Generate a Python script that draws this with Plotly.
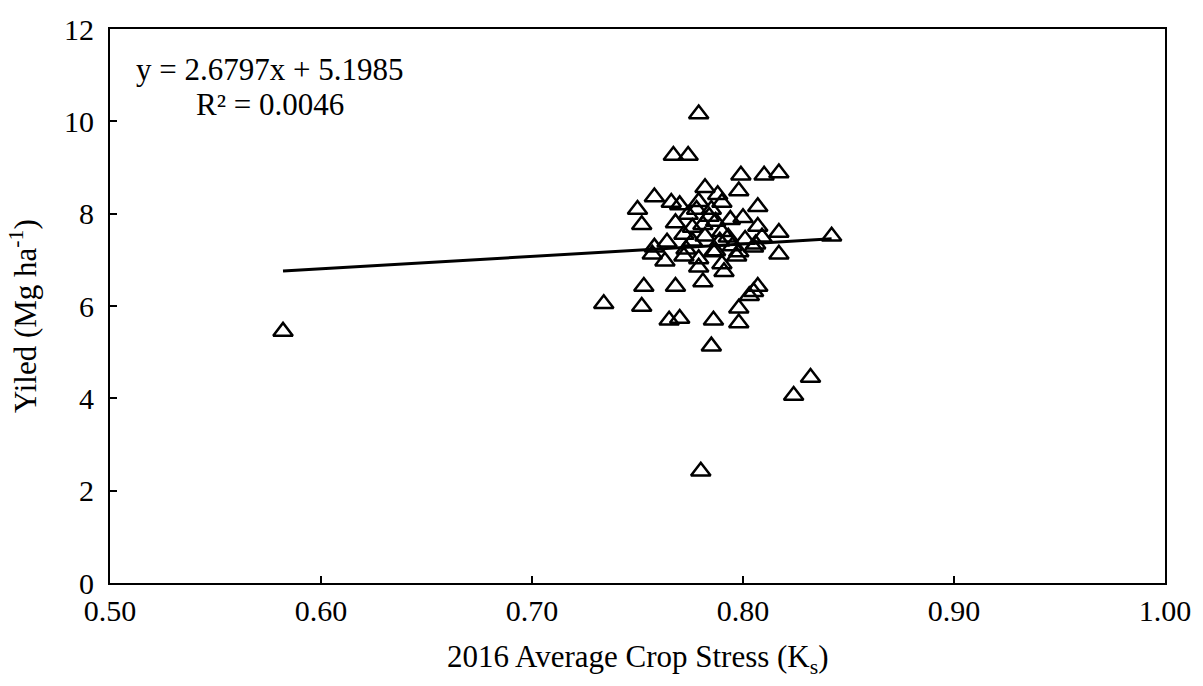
import plotly.graph_objects as go

# Average crop stress (Ks) and yield (Mg/ha)
ks = [0.582, 0.779, 0.767, 0.774, 0.799, 0.810, 0.817, 0.782, 0.798, 0.788,
      0.758, 0.766, 0.750, 0.752, 0.807, 0.800, 0.817, 0.842, 0.807, 0.734,
      0.752, 0.753, 0.768, 0.765, 0.770, 0.786, 0.798, 0.798, 0.785, 0.807,
      0.805, 0.803, 0.832, 0.824, 0.780, 0.758, 0.757, 0.764, 0.763, 0.772,
      0.779, 0.779, 0.781, 0.786, 0.790, 0.791, 0.798, 0.789, 0.793, 0.801,
      0.809, 0.817, 0.779, 0.790, 0.774, 0.784, 0.772, 0.776, 0.781, 0.787,
      0.790, 0.806, 0.773, 0.787, 0.797, 0.805, 0.778, 0.782, 0.785, 0.768,
      0.794, 0.770, 0.776, 0.795]
yld = [5.45, 10.16, 9.26, 9.26, 8.83, 8.83, 8.88, 8.56, 8.49, 8.41,
       8.36, 8.24, 8.09, 7.76, 8.15, 7.91, 7.59, 7.51, 7.72, 6.05,
       5.99, 6.42, 6.42, 5.69, 5.73, 5.69, 5.95, 5.63, 5.13, 6.42,
       6.31, 6.22, 4.45, 4.06, 2.42, 7.27, 7.12, 7.38, 6.97, 7.08,
       7.02, 6.84, 6.52, 7.17, 6.91, 6.74, 7.17, 7.40, 7.49, 7.44,
       7.49, 7.12, 8.26, 8.24, 7.98, 7.94, 7.55, 7.70, 7.76, 7.83,
       7.61, 7.34, 7.23, 7.19, 7.08, 7.27, 8.09, 7.51, 8.09, 7.80,
       7.87, 8.19, 7.40, 7.30]

slope = 2.6797
intercept = 5.1985
r2 = 0.0046

x_ticks = [0.5, 0.6, 0.7, 0.8, 0.9, 1.0]
y_ticks = [0, 2, 4, 6, 8, 10, 12]

FONT = "Liberation Serif, Times New Roman, serif"

fig = go.Figure()
fig.add_trace(go.Scatter(
    x=ks, y=yld, mode="markers",
    marker=dict(symbol="triangle-up-open", size=17, color="black",
                line=dict(color="black", width=2.5)),
    showlegend=False,
))
xmin, xmax = min(ks), max(ks)
fig.add_trace(go.Scatter(
    x=[xmin, xmax], y=[slope * xmin + intercept, slope * xmax + intercept],
    mode="lines", line=dict(color="black", width=3), showlegend=False,
))

axis_common = dict(
    showline=True, linecolor="black", linewidth=2, mirror=True,
    ticks="inside", ticklen=7, tickwidth=2, tickcolor="black",
    showgrid=False, zeroline=False,
    tickfont=dict(family=FONT, size=30, color="black"),
)
fig.update_xaxes(range=[0.5, 1.0], tickvals=x_ticks,
                 ticktext=[f"{v:.2f}" for v in x_ticks], **axis_common)
fig.update_yaxes(range=[0, 12], tickvals=y_ticks,
                 ticktext=[str(v) for v in y_ticks], ticklabelstandoff=8, **axis_common)

fig.add_annotation(text="2016 Average Crop Stress (K<sub>s</sub>)", xref="paper", yref="paper",
                   x=0.5, y=0, yshift=-76, xanchor="center", yanchor="middle", showarrow=False,
                   font=dict(family=FONT, size=31, color="black"))
fig.add_annotation(text="Yiled (Mg ha<sup>-1</sup>)", xref="paper", yref="paper",
                   x=0, xshift=-(110 - 23), y=0.5, yshift=-10, xanchor="center", yanchor="middle",
                   textangle=-90, showarrow=False,
                   font=dict(family=FONT, size=31, color="black"))
fig.add_annotation(text=f"y = {slope}x + {intercept}", xref="paper", yref="paper",
                   x=(271 - 110) / 1062, y=1, yshift=-40, xanchor="center", yanchor="middle",
                   showarrow=False, font=dict(family=FONT, size=31, color="black"))
fig.add_annotation(text=f"R² = {r2}", xref="paper", yref="paper",
                   x=(271 - 110) / 1062, y=1, yshift=-75, xanchor="center", yanchor="middle",
                   showarrow=False, font=dict(family=FONT, size=31, color="black"))

fig.update_layout(
    width=1203, height=686,
    margin=dict(l=110, r=31, t=20, b=103),
    plot_bgcolor="white", paper_bgcolor="white",
    font=dict(family=FONT, color="black"),
)
fig.write_html("out.html", post_script="document.body.style.margin='0';",
               config={"displayModeBar": False})
